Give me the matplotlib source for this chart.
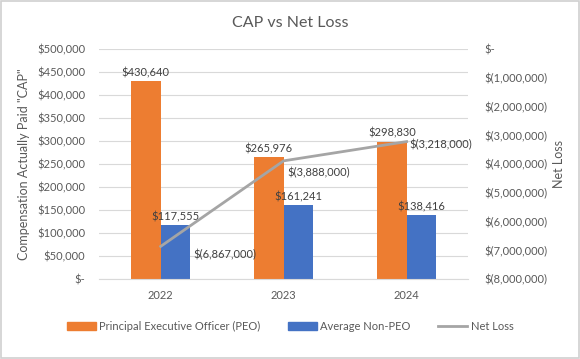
import matplotlib.pyplot as plt
import numpy as np
from matplotlib.ticker import FuncFormatter
from matplotlib.patches import Patch
from matplotlib.lines import Line2D

years = ['2022', '2023', '2024']
peo = [430640, 265976, 298830]
non_peo = [117555, 161241, 138416]
net_loss = [-6867000, -3888000, -3218000]

orange = '#ED7D31'
blue = '#4472C4'
grey = '#A5A5A5'
txt = '#595959'

plt.rcParams['font.family'] = ['Lato', 'DejaVu Sans']

def left_fmt(v, pos):
    if v == 0:
        return '$-'
    return '${:,.0f}'.format(v)

def right_fmt(v, pos):
    if v == 0:
        return '$-'
    return '$({:,.0f})'.format(abs(v))

fig = plt.figure(figsize=(5.8, 3.59), dpi=100)
fig.patches.append(plt.Rectangle((0.002, 0.003), 0.996, 0.994, transform=fig.transFigure,
                                 fill=False, edgecolor='#D0D0D0', linewidth=1.2))
ax = fig.add_axes([0.171, 0.223, 0.636, 0.64])
x = np.arange(len(years))
w = 0.24

ax.bar(x - w / 2, peo, w, color=orange, zorder=2)
ax.bar(x + w / 2, non_peo, w, color=blue, zorder=2)
for i in range(len(years)):
    ax.text(x[i] - w / 2, peo[i] + 6000, '${:,.0f}'.format(peo[i]), ha='center', va='bottom',
            fontsize=8, color='#404040')
    ax.text(x[i] + w / 2, non_peo[i] + 6000, '${:,.0f}'.format(non_peo[i]), ha='center', va='bottom',
            fontsize=8, color='#404040')

ax.set_xlim(-0.5, 2.5)
ax.set_ylim(0, 500000)
ax.set_yticks(np.arange(0, 500001, 50000))
ax.yaxis.set_major_formatter(FuncFormatter(left_fmt))
ax.grid(axis='y', color='#D9D9D9', linewidth=0.8, zorder=0)
ax.set_xticks(x)
ax.set_xticklabels(years)
ax.tick_params(length=0, labelsize=8, colors=txt)
ax.tick_params(axis='y', pad=10)
ax.tick_params(axis='x', pad=8)
for s in ax.spines.values():
    s.set_visible(False)
ax.spines['bottom'].set_visible(True)
ax.spines['bottom'].set_color('#D9D9D9')
ax.set_ylabel('Compensation Actually Paid "CAP"', fontsize=9, color=txt, labelpad=5)

ax2 = ax.twinx()
ax2.plot(x, net_loss, color=grey, linewidth=2, zorder=3)
ax2.set_ylim(-8000000, 0)
ax2.set_yticks(np.arange(-8000000, 1, 1000000))
ax2.yaxis.set_major_formatter(FuncFormatter(right_fmt))
ax2.tick_params(length=0, labelsize=8, colors=txt, pad=12)
for s in ax2.spines.values():
    s.set_visible(False)
ax2.set_ylabel('Net Loss', fontsize=9, color=txt, rotation=90, labelpad=4)
offs = [(0.27, -300000), (0.03, -400000), (0.02, -100000)]
for i in range(len(years)):
    ax2.text(x[i] + offs[i][0], net_loss[i] + offs[i][1], right_fmt(net_loss[i], None),
             ha='left', va='center', fontsize=8, color='#404040')

fig.suptitle('CAP vs Net Loss', y=0.955, fontsize=11.5, color=txt)

handles = [Patch(color=orange, label='Principal Executive Officer (PEO)'),
           Patch(color=blue, label='Average Non-PEO'),
           Line2D([0], [0], color=grey, linewidth=2, label='Net Loss')]
fig.legend(handles=handles, loc='center', bbox_to_anchor=(0.5, 0.09), ncol=3, frameon=False,
           fontsize=8, labelcolor=txt, handlelength=2.6, handleheight=0.7, handletextpad=0.3,
           columnspacing=2.5)

fig.savefig('out.png', dpi=100)
